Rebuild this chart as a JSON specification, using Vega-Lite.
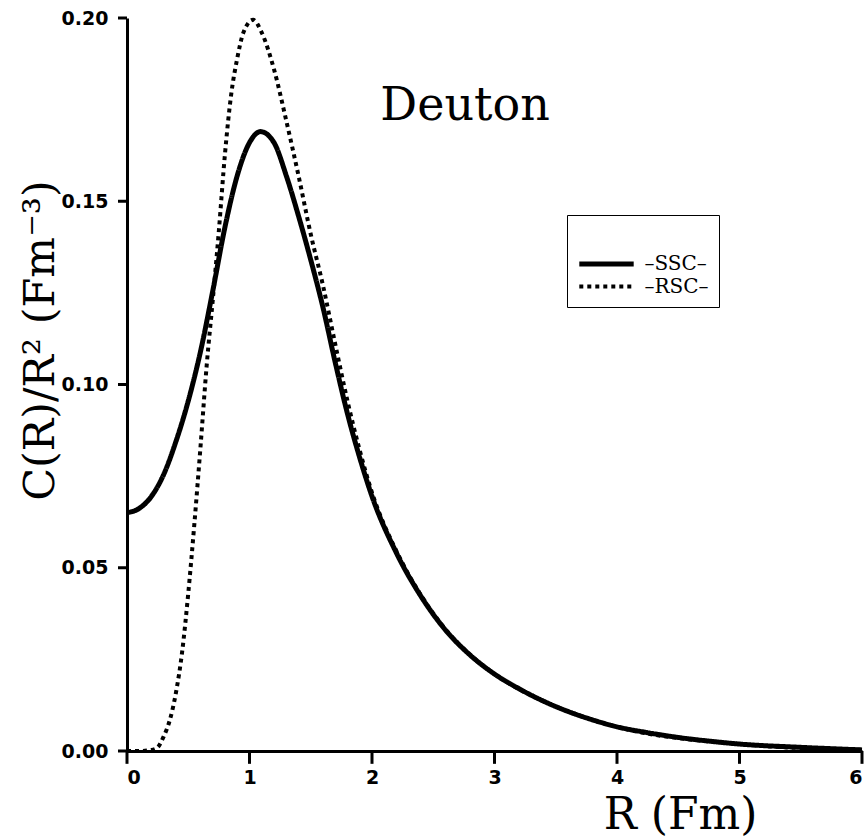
{
  "$schema": "https://vega.github.io/schema/vega-lite/v6.json",
  "width": 735,
  "height": 733,
  "autosize": {"type": "none"},
  "padding": {"left": 127, "top": 18, "right": 4, "bottom": 89},
  "background": "white",
  "config": {
    "view": {"stroke": null},
    "axis": {"domainColor": "black", "domainWidth": 3}
  },
  "datasets": {
    "curves": [
      {"model": "SSC", "r": 0.0, "v": 0.0650},
      {"model": "SSC", "r": 0.1, "v": 0.0662},
      {"model": "SSC", "r": 0.2, "v": 0.0695},
      {"model": "SSC", "r": 0.3, "v": 0.0755},
      {"model": "SSC", "r": 0.4, "v": 0.0845},
      {"model": "SSC", "r": 0.5, "v": 0.0955},
      {"model": "SSC", "r": 0.6, "v": 0.1090},
      {"model": "SSC", "r": 0.7, "v": 0.1255},
      {"model": "SSC", "r": 0.8, "v": 0.1430},
      {"model": "SSC", "r": 0.9, "v": 0.1570},
      {"model": "SSC", "r": 1.0, "v": 0.1660},
      {"model": "SSC", "r": 1.09, "v": 0.1690},
      {"model": "SSC", "r": 1.2, "v": 0.1660},
      {"model": "SSC", "r": 1.3, "v": 0.1570},
      {"model": "SSC", "r": 1.4, "v": 0.1460},
      {"model": "SSC", "r": 1.5, "v": 0.1340},
      {"model": "SSC", "r": 1.6, "v": 0.1210},
      {"model": "SSC", "r": 1.7, "v": 0.1060},
      {"model": "SSC", "r": 1.8, "v": 0.0920},
      {"model": "SSC", "r": 1.9, "v": 0.0800},
      {"model": "SSC", "r": 2.0, "v": 0.0695},
      {"model": "SSC", "r": 2.2, "v": 0.0540},
      {"model": "SSC", "r": 2.4, "v": 0.0422},
      {"model": "SSC", "r": 2.6, "v": 0.0330},
      {"model": "SSC", "r": 2.8, "v": 0.0262},
      {"model": "SSC", "r": 3.0, "v": 0.0210},
      {"model": "SSC", "r": 3.2, "v": 0.0170},
      {"model": "SSC", "r": 3.4, "v": 0.0136},
      {"model": "SSC", "r": 3.6, "v": 0.0108},
      {"model": "SSC", "r": 3.8, "v": 0.0085},
      {"model": "SSC", "r": 4.0, "v": 0.0066},
      {"model": "SSC", "r": 4.25, "v": 0.0050},
      {"model": "SSC", "r": 4.5, "v": 0.0037},
      {"model": "SSC", "r": 4.75, "v": 0.0027},
      {"model": "SSC", "r": 5.0, "v": 0.0019},
      {"model": "SSC", "r": 5.5, "v": 0.0010},
      {"model": "SSC", "r": 6.0, "v": 0.0003},
      {"model": "RSC", "r": 0.0, "v": 0.0},
      {"model": "RSC", "r": 0.1, "v": 0.0},
      {"model": "RSC", "r": 0.2, "v": 0.0003},
      {"model": "RSC", "r": 0.25, "v": 0.0010},
      {"model": "RSC", "r": 0.3, "v": 0.0040},
      {"model": "RSC", "r": 0.35, "v": 0.0085},
      {"model": "RSC", "r": 0.4, "v": 0.0160},
      {"model": "RSC", "r": 0.45, "v": 0.0270},
      {"model": "RSC", "r": 0.5, "v": 0.0430},
      {"model": "RSC", "r": 0.55, "v": 0.0620},
      {"model": "RSC", "r": 0.6, "v": 0.0830},
      {"model": "RSC", "r": 0.65, "v": 0.1050},
      {"model": "RSC", "r": 0.7, "v": 0.1230},
      {"model": "RSC", "r": 0.75, "v": 0.1420},
      {"model": "RSC", "r": 0.8, "v": 0.1630},
      {"model": "RSC", "r": 0.85, "v": 0.1790},
      {"model": "RSC", "r": 0.9, "v": 0.1890},
      {"model": "RSC", "r": 0.95, "v": 0.1960},
      {"model": "RSC", "r": 1.03, "v": 0.1995},
      {"model": "RSC", "r": 1.1, "v": 0.1960},
      {"model": "RSC", "r": 1.2, "v": 0.1860},
      {"model": "RSC", "r": 1.3, "v": 0.1720},
      {"model": "RSC", "r": 1.4, "v": 0.1570},
      {"model": "RSC", "r": 1.5, "v": 0.1410},
      {"model": "RSC", "r": 1.6, "v": 0.1270},
      {"model": "RSC", "r": 1.7, "v": 0.1110},
      {"model": "RSC", "r": 1.8, "v": 0.0955},
      {"model": "RSC", "r": 1.9, "v": 0.0820},
      {"model": "RSC", "r": 2.0, "v": 0.0705},
      {"model": "RSC", "r": 2.2, "v": 0.0545},
      {"model": "RSC", "r": 2.4, "v": 0.0425},
      {"model": "RSC", "r": 2.6, "v": 0.0332},
      {"model": "RSC", "r": 2.8, "v": 0.0263},
      {"model": "RSC", "r": 3.0, "v": 0.0210},
      {"model": "RSC", "r": 3.4, "v": 0.0136},
      {"model": "RSC", "r": 4.0, "v": 0.0066},
      {"model": "RSC", "r": 5.0, "v": 0.0019},
      {"model": "RSC", "r": 6.0, "v": 0.0003}
    ],
    "labels": [
      {"label": "Deuton", "r": 2.76, "v": 0.176}
    ],
    "xticks": [
      {"r": 0}, {"r": 1}, {"r": 2}, {"r": 3}, {"r": 4}, {"r": 5}, {"r": 6}
    ],
    "yticks": [
      {"v": 0}, {"v": 0.05}, {"v": 0.1}, {"v": 0.15}, {"v": 0.2}
    ]
  },
  "layer": [
    {
      "data": {"name": "curves"},
      "mark": {"type": "line", "color": "black", "interpolate": "monotone", "strokeCap": "butt"},
      "encoding": {
        "x": {
          "field": "r", "type": "quantitative",
          "scale": {"domain": [0, 6], "nice": false, "zero": false},
          "axis": {
            "values": [0, 1, 2, 3, 4, 5, 6], "format": "d", "grid": false, "ticks": false,
            "labelFont": "DejaVu Sans", "labelFontWeight": "bold", "labelFontSize": 19, "labelColor": "black", "labelPadding": 17,
            "title": "R (Fm)", "titleFont": "DejaVu Serif", "titleFontWeight": "normal", "titleFontSize": 44, "titleColor": "black",
            "titleX": 553, "titleY": 64, "titleAlign": "center", "titleBaseline": "middle"
          }
        },
        "y": {
          "field": "v", "type": "quantitative",
          "scale": {"domain": [0, 0.2], "nice": false},
          "axis": {
            "values": [0, 0.05, 0.1, 0.15, 0.2], "format": ".2f", "grid": false, "ticks": false,
            "labelFont": "DejaVu Sans", "labelFontWeight": "bold", "labelFontSize": 19, "labelColor": "black", "labelPadding": 19,
            "title": "C(R)/R² (Fm⁻³)", "titleFont": "DejaVu Serif", "titleFontWeight": "normal", "titleFontSize": 43, "titleColor": "black",
            "titleX": -87, "titleY": 322, "titleAngle": -90, "titleAlign": "center", "titleBaseline": "middle"
          }
        },
        "strokeDash": {
          "field": "model", "type": "nominal",
          "scale": {"domain": ["SSC", "RSC"], "range": [[1, 0], [4, 4]]},
          "legend": {
            "orient": "none", "legendX": 440, "legendY": 197,
            "title": "\u2003",
            "titleFont": "DejaVu Sans", "titleFontSize": 16, "titlePadding": 12,
            "strokeColor": "black", "padding": 10,
            "symbolType": "M-3.2,0H3.2", "symbolSize": 289, "symbolStrokeWidth": 4, "symbolStrokeColor": "black", "symbolFillColor": "transparent",
            "symbolOffset": 18.5,
            "labelFont": "DejaVu Serif", "labelFontSize": 20, "labelColor": "black",
            "labelExpr": "'–' + datum.label + '–'", "rowPadding": 2, "labelOffset": 27
          }
        },
        "strokeWidth": {
          "field": "model", "type": "nominal",
          "scale": {"domain": ["SSC", "RSC"], "range": [5, 4]},
          "legend": null
        }
      }
    },
    {
      "data": {"name": "xticks"},
      "mark": {"type": "rule", "color": "black", "strokeWidth": 3, "clip": false},
      "encoding": {
        "x": {"field": "r", "type": "quantitative"},
        "y": {"datum": 0, "type": "quantitative"},
        "y2": {"datum": -0.0035}
      }
    },
    {
      "data": {"name": "yticks"},
      "mark": {"type": "rule", "color": "black", "strokeWidth": 3, "clip": false},
      "encoding": {
        "y": {"field": "v", "type": "quantitative"},
        "x": {"datum": 0, "type": "quantitative"},
        "x2": {"datum": -0.0735}
      }
    },
    {
      "data": {"name": "labels"},
      "mark": {"type": "text", "font": "DejaVu Serif", "fontSize": 46, "color": "black", "align": "center", "baseline": "middle"},
      "encoding": {
        "x": {"field": "r", "type": "quantitative"},
        "y": {"field": "v", "type": "quantitative"},
        "text": {"field": "label", "type": "nominal"}
      }
    }
  ]
}
